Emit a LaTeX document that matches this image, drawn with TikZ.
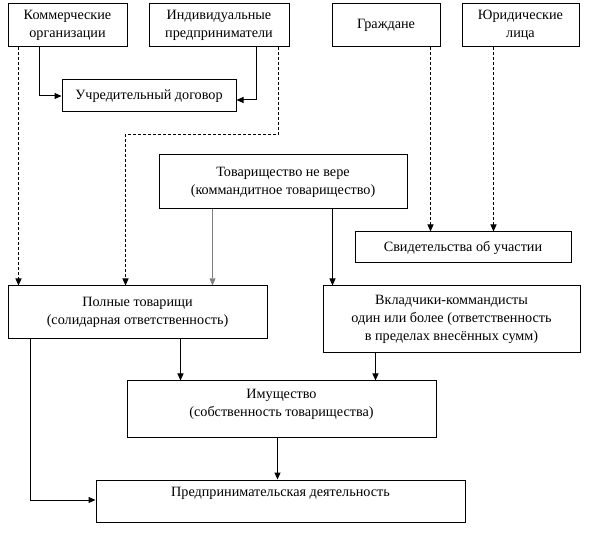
\documentclass[tikz,border=0pt]{standalone}
\usepackage{fontspec}
\setmainfont{Liberation Serif}
\usetikzlibrary{arrows.meta}
\begin{document}
\begin{tikzpicture}[x=1pt,y=-1pt,
  box/.style={draw, line width=1pt, inner sep=0pt, align=center, font=\fontsize{14.2}{18}\selectfont},
  conn/.style={line width=1pt, -{Triangle[length=7pt,width=6pt]}},
  dconn/.style={conn, dash pattern=on 3pt off 2pt}]
\useasboundingbox (0,0) rectangle (589,534);
\node[box, minimum width=119pt, minimum height=43pt] (kom) at (67.5,25.5) {Коммерческие\\организации};
\node[box, minimum width=140pt, minimum height=43pt] (ind) at (219,25.5) {Индивидуальные\\предприниматели};
\node[box, minimum width=108pt, minimum height=43pt] (gra) at (386,25.5) {Граждане};
\node[box, minimum width=117pt, minimum height=43pt] (yur) at (520.5,25.5) {Юридические\\лица};
\node[box, minimum width=174pt, minimum height=32pt] (ucr) at (149,96) {Учредительный договор};
\node[box, minimum width=248pt, minimum height=54pt] (tov) at (283,182) {Товарищество не вере\\(коммандитное товарищество)};
\node[box, minimum width=216pt, minimum height=31pt] (svi) at (463,247.5) {Свидетельства об участии};
\node[box, minimum width=259pt, minimum height=53pt] (pol) at (137.5,312.5) {Полные товарищи\\(солидарная ответственность)};
\node[box, minimum width=257pt, minimum height=67pt] (vkl) at (451.5,319.5) {Вкладчики-коммандисты\\один или более (ответственность\\в пределах внесённых сумм)};
\node[box, minimum width=309pt, minimum height=56pt] (imu) at (281.5,409) {Имущество\\(собственность товарищества)\\[-6pt]\mbox{}};
\node[box, minimum width=369pt, minimum height=42pt] (pre) at (280.5,501) {Предпринимательская деятельность\\\mbox{}};
% connectors
\draw[conn] ([xshift=32pt]kom.south west) |- (ucr.west);
\draw[conn] ([xshift=108pt]ind.south west) |- ([yshift=-4pt]ucr.east);
\draw[dconn] ([xshift=11pt]kom.south west) -- ([xshift=11pt]pol.north west);
\draw[dconn] ([xshift=130pt]ind.south west) -- ++(0,87) -| ([xshift=118pt]pol.north west);
\draw[conn, draw=gray, fill=black, line width=1.6pt, -{Triangle[length=7pt,width=6pt,line width=0pt]}] ([xshift=54pt]tov.south west) -- ([xshift=205pt]pol.north west);
\draw[conn] ([xshift=174pt]tov.south west) -- ([xshift=10pt]vkl.north west);
\draw[dconn] ([xshift=99pt]gra.south west) -- ([xshift=76pt]svi.north west);
\draw[dconn] ([xshift=32pt]yur.south west) -- ([xshift=139pt]svi.north west);
\draw[conn] ([xshift=173pt]pol.south west) -- ([xshift=54pt]imu.north west);
\draw[conn] ([xshift=53pt]vkl.south west) -- ([xshift=249pt]imu.north west);
\draw[conn] ([xshift=23pt]pol.south west) |- ([yshift=1pt]pre.west);
\draw[conn] ([xshift=151pt]imu.south west) -- ([xshift=182pt]pre.north west);
\end{tikzpicture}
\end{document}
